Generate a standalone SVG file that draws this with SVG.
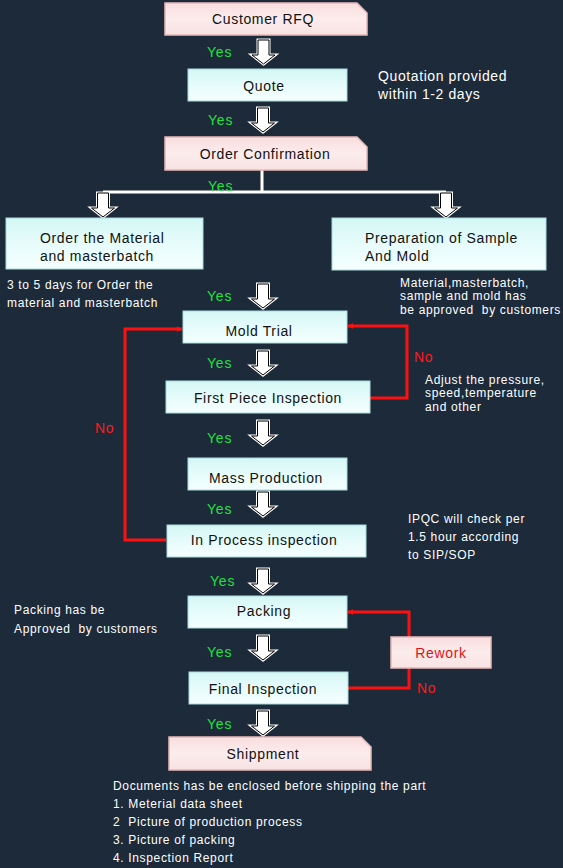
<svg xmlns="http://www.w3.org/2000/svg" width="563" height="868" viewBox="0 0 563 868">
<defs>
<linearGradient id="cy" x1="0" y1="0" x2="0" y2="1">
<stop offset="0" stop-color="#d4f7f5"/><stop offset="0.5" stop-color="#e6fcfb"/><stop offset="1" stop-color="#f4fffe"/>
</linearGradient>
<linearGradient id="pk" x1="0" y1="0" x2="0" y2="1">
<stop offset="0" stop-color="#f9dede"/><stop offset="0.5" stop-color="#fcecec"/><stop offset="1" stop-color="#f8e2e2"/>
</linearGradient>
<path id="arr" d="M-5.5,0 H5.5 V15 H11.5 L0,24 L-11.5,15 H-5.5 Z"/>
<g id="ba"><use href="#arr" fill="#fff" stroke="#fff" stroke-width="3"/><use href="#arr" fill="#fff" stroke="#000" stroke-width="1"/></g>
<marker id="rh" viewBox="0 0 10 10" refX="9" refY="5" markerWidth="6" markerHeight="6" orient="auto" markerUnits="userSpaceOnUse">
<path d="M0,0 L10,5 L0,10 z" fill="#ff1010"/>
</marker>
</defs>
<style>
.cb{fill:url(#cy);stroke:#a8dcdc;stroke-width:1}
.pb{fill:url(#pk);stroke:#e7b9b9;stroke-width:1.5}
text{font-family:"Liberation Sans",Arial,sans-serif;white-space:pre}
.t{font-size:14px;fill:#111;text-anchor:middle;letter-spacing:0.65px}
.tl{font-size:14px;fill:#111;letter-spacing:0.65px}
.n{font-size:12px;fill:#fff;letter-spacing:0.65px}
.nb{font-size:14px;fill:#fff;letter-spacing:0.6px}
.y{font-size:14px;fill:#22e040;letter-spacing:0.8px}
.no{font-size:14px;fill:#ff1a1a;letter-spacing:0.6px}
.rl{fill:none;stroke:#ff1010;stroke-width:3}
</style>
<rect width="563" height="868" fill="#1c2a3a"/>

<g id="connectors">
<path d="M262,170 V192 M103,192 H446" stroke="#fff" stroke-width="3" fill="none"/>
<use href="#ba" x="263.5" y="40"/>
<use href="#ba" x="263" y="108"/>
<use href="#ba" x="103" y="193"/>
<use href="#ba" x="446" y="193"/>
<use href="#ba" x="263" y="284"/>
<use href="#ba" x="263" y="351"/>
<use href="#ba" x="263" y="421"/>
<use href="#ba" x="263" y="492"/>
<use href="#ba" x="263" y="569"/>
<use href="#ba" x="263" y="636"/>
<use href="#ba" x="263" y="711"/>
<path class="rl" d="M166,540 H125 V329 H182" marker-end="url(#rh)"/>
<path class="rl" d="M370,398 H407 V326 H348" marker-end="url(#rh)"/>
<path class="rl" d="M409,637 V612 H348" marker-end="url(#rh)"/>
<path class="rl" d="M348,688 H409 V668"/>
<text class="y" x="207" y="57">Yes</text>
<text class="y" x="208" y="125">Yes</text>
<text class="y" x="208" y="191">Yes</text>
<text class="y" x="207" y="301">Yes</text>
<text class="y" x="207" y="368">Yes</text>
<text class="y" x="207" y="443">Yes</text>
<text class="y" x="207" y="514">Yes</text>
<text class="y" x="210" y="586">Yes</text>
<text class="y" x="207" y="657">Yes</text>
<text class="y" x="207" y="729">Yes</text>
<text class="no" x="414" y="362">No</text>
<text class="no" x="95" y="433">No</text>
<text class="no" x="417" y="693">No</text>
</g>

<g id="n-rfq"><path class="pb" d="M165,3 H357 L367,13 V35 H165 Z"/><text class="t" x="263" y="24">Customer RFQ</text></g>
<g id="n-quote"><rect class="cb" x="188" y="69" width="159" height="32"/><text class="t" x="264" y="91">Quote</text></g>
<g id="n-order"><path class="pb" d="M165,137 H357 L367,147 V170 H165 Z"/><text class="t" x="265" y="159">Order Confirmation</text></g>
<g id="n-material"><rect class="cb" x="6" y="218" width="197" height="51"/><text class="tl" x="40" y="243">Order the Material</text><text class="tl" x="40" y="261">and masterbatch</text></g>
<g id="n-prep"><rect class="cb" x="332" y="218" width="214" height="52"/><text class="tl" x="365" y="243">Preparation of Sample</text><text class="tl" x="365" y="261">And Mold</text></g>
<g id="n-mold"><rect class="cb" x="183" y="311" width="164" height="32"/><text class="t" x="259" y="336">Mold Trial</text></g>
<g id="n-first"><rect class="cb" x="166" y="381" width="204" height="32"/><text class="t" x="268" y="403">First Piece Inspection</text></g>
<g id="n-mass"><rect class="cb" x="188" y="458" width="159" height="32"/><text class="t" x="266" y="483">Mass Production</text></g>
<g id="n-inproc"><rect class="cb" x="167" y="525" width="199" height="32"/><text class="t" x="264" y="545">In Process inspection</text></g>
<g id="n-packing"><rect class="cb" x="188" y="596" width="159" height="32"/><text class="t" x="264" y="616">Packing</text></g>
<g id="n-rework"><rect class="pb" x="391" y="637" width="100" height="31"/><text class="t" x="441" y="658" style="fill:#e0141a">Rework</text></g>
<g id="n-final"><rect class="cb" x="189" y="672" width="159" height="32"/><text class="t" x="263" y="694">Final Inspection</text></g>
<g id="n-ship"><path class="pb" d="M169,737 H361 L371,747 V770 H169 Z"/><text class="t" x="263" y="759">Shippment</text></g>

<g id="notes">
<text class="nb" x="378" y="81">Quotation provided</text>
<text class="nb" x="378" y="99">within 1-2 days</text>
<text class="n" x="7" y="289">3 to 5 days for Order the</text>
<text class="n" x="7" y="307">material and masterbatch</text>
<text class="n" x="400" y="287">Material,masterbatch,</text>
<text class="n" x="400" y="300">sample and mold has</text>
<text class="n" x="400" y="314">be approved  by customers</text>
<text class="n" x="425" y="384">Adjust the pressure,</text>
<text class="n" x="425" y="397">speed,temperature</text>
<text class="n" x="425" y="411">and other</text>
<text class="n" x="408" y="523">IPQC will check per</text>
<text class="n" x="408" y="541">1.5 hour according</text>
<text class="n" x="408" y="559">to SIP/SOP</text>
<text class="n" x="14" y="614">Packing has be</text>
<text class="n" x="14" y="633">Approved  by customers</text>
<text class="n" x="113" y="790">Documents has be enclosed before shipping the part</text>
<text class="n" x="113" y="808">1. Meterial data sheet</text>
<text class="n" x="113" y="826">2  Picture of production process</text>
<text class="n" x="113" y="844">3. Picture of packing</text>
<text class="n" x="113" y="862">4. Inspection Report</text>
</g>
</svg>
